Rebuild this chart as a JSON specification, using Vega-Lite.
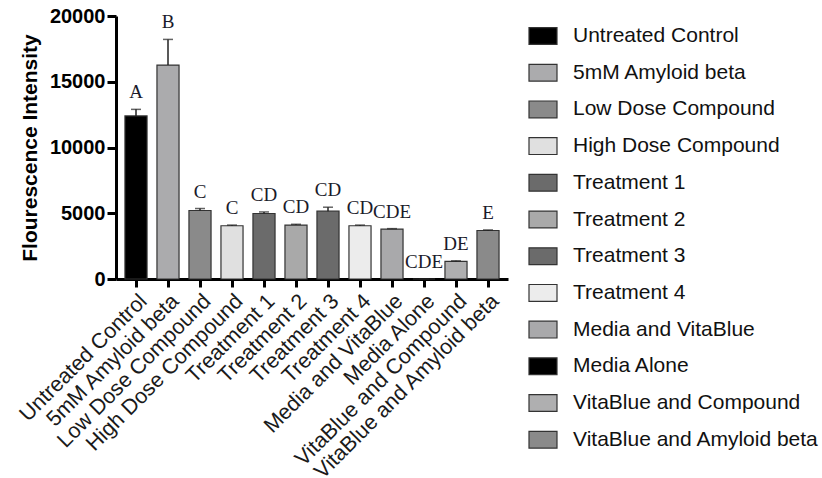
{
  "$schema": "https://vega.github.io/schema/vega-lite/v6.json",
  "width": 392,
  "height": 263,
  "autosize": "none",
  "padding": {"left": 116, "top": 16, "right": 314, "bottom": 199},
  "background": "white",
  "config": {"view": {"stroke": null}},
  "data": {"values": [
    {"group": "Untreated Control", "value": 12400, "err": 12900, "letter": "A"},
    {"group": "5mM Amyloid beta", "value": 16270, "err": 18220, "letter": "B"},
    {"group": "Low Dose Compound", "value": 5210, "err": 5360, "letter": "C"},
    {"group": "High Dose Compound", "value": 4050, "err": 4100, "letter": "C"},
    {"group": "Treatment 1", "value": 4980, "err": 5100, "letter": "CD"},
    {"group": "Treatment 2", "value": 4100, "err": 4160, "letter": "CD"},
    {"group": "Treatment 3", "value": 5160, "err": 5460, "letter": "CD"},
    {"group": "Treatment 4", "value": 4050, "err": 4100, "letter": "CD"},
    {"group": "Media and VitaBlue", "value": 3800, "err": 3830, "letter": "CDE"},
    {"group": "Media Alone", "value": 0, "err": 0, "letter": "CDE"},
    {"group": "VitaBlue and Compound", "value": 1340, "err": 1380, "letter": "DE"},
    {"group": "VitaBlue and Amyloid beta", "value": 3690, "err": 3730, "letter": "E"}
  ]},
  "encoding": {
    "x": {
      "field": "group", "type": "nominal", "sort": null,
      "scale": {"paddingInner": 0.31, "paddingOuter": 0.28},
      "axis": {
        "title": null, "labelAngle": -45, "labelFont": "Liberation Sans", "labelFontSize": 21.5,
        "labelColor": "#1a1a1a", "domainColor": "#000", "domainWidth": 3, "tickColor": "#000",
        "tickWidth": 3, "tickSize": 8, "labelPadding": 3, "labelLimit": 400
      }
    }
  },
  "layer": [
    {
      "mark": {"type": "bar", "stroke": "#333333", "strokeWidth": 1.2},
      "encoding": {
        "y": {
          "field": "value", "type": "quantitative",
          "scale": {"domain": [0, 20000], "nice": false},
          "axis": {
            "title": "Flourescence Intensity", "values": [0, 5000, 10000, 15000, 20000],
            "grid": false, "labelFont": "Liberation Sans", "labelFontWeight": "bold", "labelFontSize": 20,
            "labelColor": "#000", "titleFont": "Liberation Sans", "titleFontWeight": "bold",
            "titleFontSize": 21, "titleColor": "#000", "titlePadding": 9, "domainColor": "#000",
            "domainWidth": 3, "tickColor": "#000", "tickWidth": 3, "tickSize": 9, "labelPadding": 2,
            "format": "d"
          }
        },
        "color": {
          "field": "group", "type": "nominal", "sort": null,
          "scale": {
            "domain": ["Untreated Control", "5mM Amyloid beta", "Low Dose Compound", "High Dose Compound", "Treatment 1", "Treatment 2", "Treatment 3", "Treatment 4", "Media and VitaBlue", "Media Alone", "VitaBlue and Compound", "VitaBlue and Amyloid beta"],
            "range": ["#000000", "#ababad", "#8a8a8a", "#e0e0e0", "#6b6b6b", "#a9a9a9", "#6b6b6b", "#ececec", "#a9a9ab", "#000000", "#afafb0", "#8a8a8a"]
          },
          "legend": {
            "title": null, "orient": "none", "legendX": 412, "legendY": 5,
            "symbolType": "M-1,-0.6H1V0.6H-1Z", "symbolSize": 784, "symbolStrokeColor": "#333333",
            "symbolStrokeWidth": 1.2, "labelFont": "Liberation Sans", "labelFontSize": 21,
            "labelColor": "#111", "labelOffset": 15, "rowPadding": 10.7, "labelLimit": 400
          }
        }
      }
    },
    {
      "mark": {"type": "rule", "color": "#222", "strokeWidth": 1.5},
      "encoding": {
        "y": {"field": "value", "type": "quantitative"},
        "y2": {"field": "err"}
      }
    },
    {
      "mark": {"type": "tick", "color": "#222", "thickness": 1.5, "size": 10},
      "encoding": {
        "y": {"field": "err", "type": "quantitative"}
      }
    },
    {
      "mark": {"type": "text", "font": "Liberation Serif", "fontSize": 19, "color": "#1a1a2a", "baseline": "alphabetic", "dy": -11},
      "encoding": {
        "y": {"field": "err", "type": "quantitative"},
        "text": {"field": "letter"}
      }
    }
  ]
}
